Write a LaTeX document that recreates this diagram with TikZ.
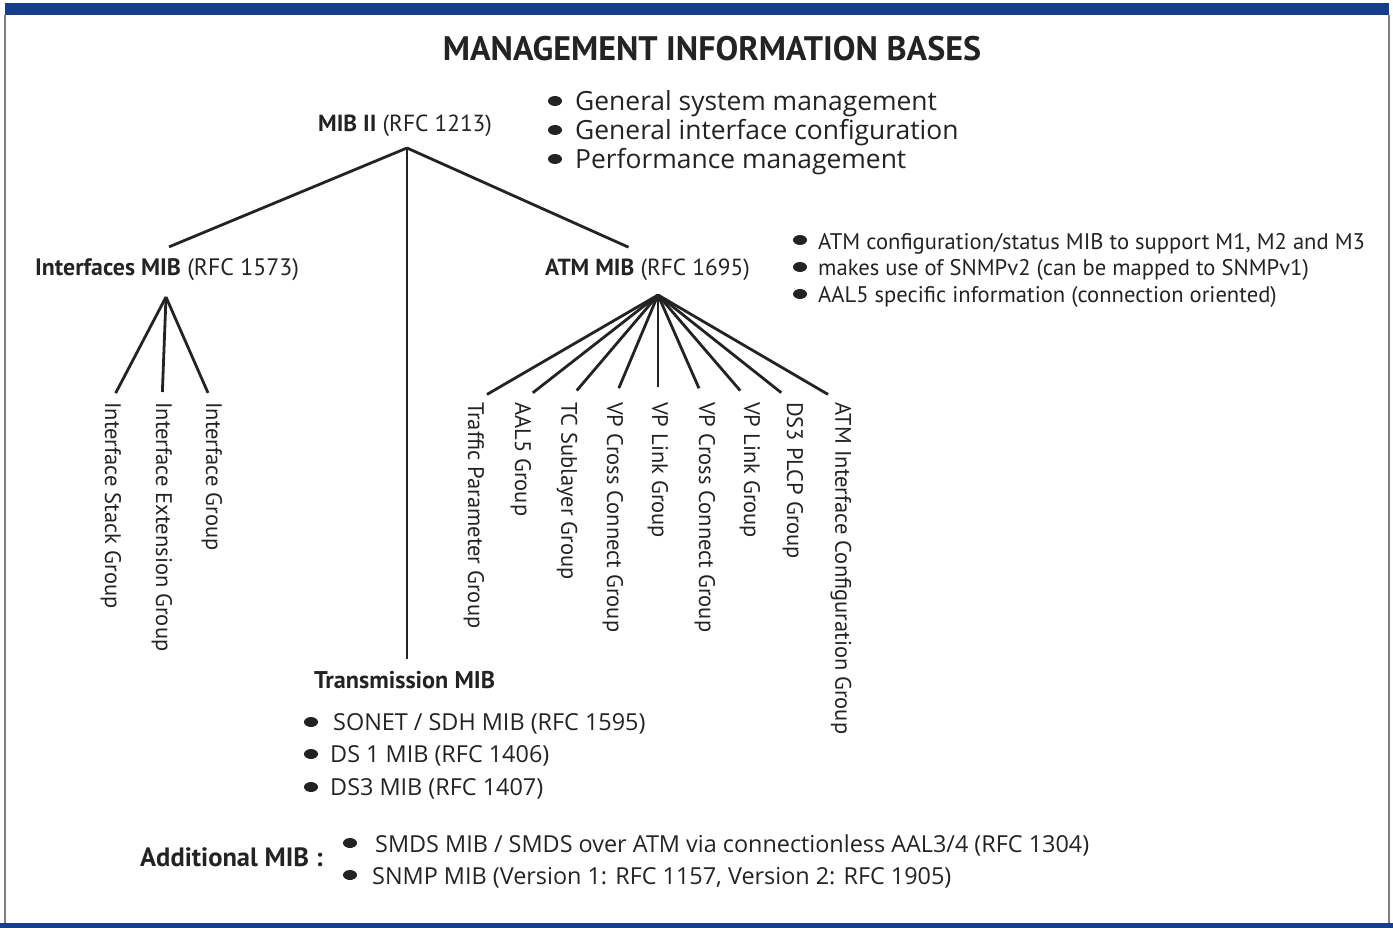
\documentclass[tikz,border=0pt]{standalone}
\usepackage{fontspec}
\setmainfont{PT Sans}
\newfontfamily\widefont{Open Sans}
\definecolor{band}{RGB}{22,60,140}
\definecolor{ink}{RGB}{35,35,35}
\tikzset{
  txt/.style={inner sep=0pt, text=ink, anchor=base west},
  mibname/.style={txt, font=\fontsize{23.3}{23.3}\selectfont},
  wide/.style={txt, font=\widefont\fontsize{26.4}{26.4}\selectfont},
  widesmall/.style={txt, font=\widefont\fontsize{23.4}{23.4}\selectfont},
  note/.style={txt, font=\fontsize{22.6}{22.6}\selectfont},
  grp/.style={inner sep=0pt, text=ink, rotate=-90, anchor=west, font=\fontsize{22.5}{22.5}\selectfont},
  branch/.style={draw=ink, line width=2.8pt}
}
\begin{document}
\begin{tikzpicture}[x=1pt, y=-1pt]
            \useasboundingbox (0,0) rectangle (1393,928);
            \fill[band] (5,3) rectangle (1389,15);
            \fill[band] (0,923) rectangle (1393,928);
            \draw[gray, line width=1.2pt] (5,15) -- (5,923) (1389,15) -- (1389,923);

            \node[txt, anchor=base, font=\bfseries\fontsize{34}{34}\selectfont] (T) at (712,61) {MANAGEMENT INFORMATION BASES};

            \node[mibname] (MIB) at (318,132) {\textbf{MIB II} (RFC 1213)};
            \node[mibname, font=\fontsize{23.8}{23.8}\selectfont] (IF) at (35,276) {\textbf{Interfaces MIB} (RFC 1573)};
            \node[mibname] (ATM) at (545,276) {\textbf{ATM MIB} (RFC 1695)};
            \node[mibname, font=\bfseries\fontsize{24.2}{24.2}\selectfont] (TR) at (314,688) {Transmission MIB};
            \node[mibname, font=\bfseries\fontsize{26.5}{26.5}\selectfont] (ADD) at (140,866) {Additional MIB :};

            \coordinate (MIBr) at (407,148);
            \coordinate (IFr) at (166,297);
            \coordinate (ATMr) at (658,295);

            \draw[branch] (MIBr) -- ([xshift=2pt, yshift=12pt]IF.north);
            \draw[branch] (MIBr) -- ([xshift=-19pt, yshift=12pt]ATM.north);
            \draw[branch, shorten >=12pt] (MIBr) -- (MIBr |- TR.north);

            \foreach \n/\x/\t in {1/111/Interface Stack Group, 2/162/Interface Extension Group, 3/212/Interface Group}{
                \node[grp] (s\n) at (\x,402) {\t};
                \draw[branch, shorten >=10pt] (IFr) -- (s\n.west);
            }
            \foreach \n/\x/\t in {1/474/Traffic Parameter Group, 2/521/AAL5 Group, 3/567/TC Sublayer Group,
                4/613/VP Cross Connect Group, 5/658/VP Link Group, 6/705/VP Cross Connect Group,
                7/750/VP Link Group, 8/793/DS3 PLCP Group, 9/841/ATM Interface Configuration Group}{
                \node[grp] (g\n) at (\x,402) {\t};
                \draw[branch, shorten >=15pt] (ATMr) -- (g\n.west);
            }

            \node[wide] (m1) at (575,111) {General system management};
            \node[wide] (m2) at (575,140) {General interface configuration};
            \node[wide] (m3) at (575,169) {Performance management};

            \node[note] (a1) at (818,250) {ATM configuration/status MIB to support M1, M2 and M3};
            \node[note] (a2) at (818,276) {makes use of SNMPv2 (can be mapped to SNMPv1)};
            \node[note] (a3) at (818,302) {AAL5 specific information (connection oriented)};

            \node[widesmall] (t1) at (333,730) {SONET / SDH MIB (RFC 1595)};
            \node[widesmall] (t2) at (330,762) {DS 1 MIB (RFC 1406)};
            \node[widesmall] (t3) at (330,795) {DS3 MIB (RFC 1407)};

            \node[widesmall] (x1) at (375,852) {SMDS MIB / SMDS over ATM via connectionless AAL3/4 (RFC 1304)};
            \node[widesmall] (x2) at (372,884) {SNMP MIB (Version 1: RFC 1157, Version 2: RFC 1905)};

            \foreach \x/\y in {555/101, 555/130, 555/159, 800/240, 800/267, 800/294,
                311/722, 311/754, 311/787, 350/843, 350/875}
                \fill[ink] (\x,\y) ellipse (7 and 5);
        \end{tikzpicture}
\end{document}
